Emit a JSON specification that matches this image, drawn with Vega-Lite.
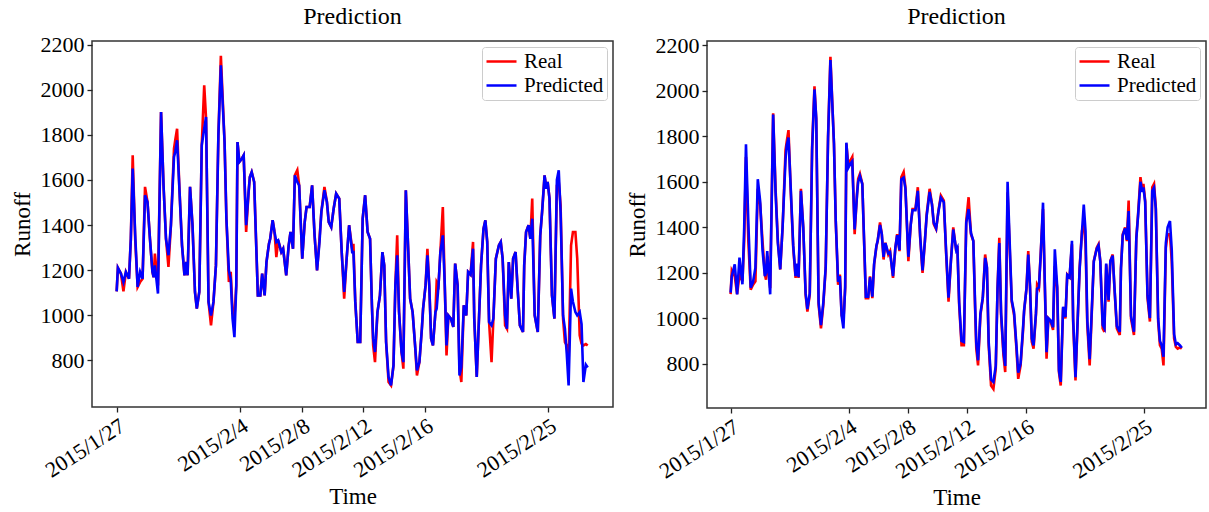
{
  "$schema": "https://vega.github.io/schema/vega-lite/v6.json",
  "padding": {"left": 10, "top": 3, "right": 0, "bottom": 0},
  "config": {
    "font": "Liberation Serif",
    "view": {"stroke": "#333333", "strokeWidth": 1.5},
    "axis": {"grid": false, "domain": false, "tickColor": "#222", "tickSize": 5, "tickWidth": 1.3, "labelFont": "Liberation Serif", "labelFontSize": 22, "labelColor": "#000", "titleFont": "Liberation Serif", "titleFontSize": 23, "titleFontWeight": "normal", "titleColor": "#000", "labelPadding": 3, "labelOverlap": false, "format": "d"},
    "title": {"font": "Liberation Serif", "fontSize": 24, "fontWeight": "normal", "color": "#000", "offset": 5},
    "legend": {"orient": "top-right", "offset": 6, "fillColor": "white", "strokeColor": "#cccccc", "cornerRadius": 3, "padding": 3, "symbolType": "stroke", "symbolSize": 900, "symbolStrokeWidth": 2.5, "labelFont": "Liberation Serif", "labelFontSize": 21, "labelColor": "#000", "rowPadding": 1, "clipHeight": 23, "labelOffset": 6, "title": null}
  },
  "datasets": {
    "d": [
      {"t":0,"real":1106,"pred1":1106,"pred2":1112},
      {"t":2,"real":1210,"pred1":1210,"pred2":1185},
      {"t":7,"real":1184,"pred1":1184,"pred2":1237},
      {"t":11,"real":1106,"pred1":1147,"pred2":1105},
      {"t":15,"real":1192,"pred1":1192,"pred2":1266},
      {"t":20,"real":1162,"pred1":1162,"pred2":1149},
      {"t":23,"real":1339,"pred1":1339,"pred2":1400},
      {"t":26,"real":1709,"pred1":1650,"pred2":1765},
      {"t":30,"real":1339,"pred1":1360,"pred2":1420},
      {"t":34,"real":1125,"pred1":1125,"pred2":1134},
      {"t":38,"real":1147,"pred1":1192,"pred2":1160},
      {"t":42,"real":1162,"pred1":1162,"pred2":1222},
      {"t":46,"real":1569,"pred1":1532,"pred2":1611},
      {"t":50,"real":1502,"pred1":1502,"pred2":1515},
      {"t":54,"real":1339,"pred1":1339,"pred2":1300},
      {"t":58,"real":1192,"pred1":1192,"pred2":1185},
      {"t":60,"real":1169,"pred1":1169,"pred2":1200},
      {"t":62,"real":1273,"pred1":1221,"pred2":1295},
      {"t":67,"real":1132,"pred1":1096,"pred2":1105},
      {"t":72,"real":1901,"pred1":1901,"pred2":1896},
      {"t":76,"real":1576,"pred1":1576,"pred2":1560},
      {"t":80,"real":1339,"pred1":1339,"pred2":1330},
      {"t":84,"real":1214,"pred1":1266,"pred2":1215},
      {"t":88,"real":1399,"pred1":1399,"pred2":1400},
      {"t":93,"real":1739,"pred1":1702,"pred2":1699},
      {"t":95,"real":1776,"pred1":1724,"pred2":1760},
      {"t":98,"real":1827,"pred1":1776,"pred2":1794},
      {"t":102,"real":1547,"pred1":1547,"pred2":1560},
      {"t":106,"real":1310,"pred1":1310,"pred2":1320},
      {"t":110,"real":1177,"pred1":1177,"pred2":1185},
      {"t":113,"real":1236,"pred1":1236,"pred2":1240},
      {"t":115,"real":1177,"pred1":1177,"pred2":1180},
      {"t":119,"real":1569,"pred1":1569,"pred2":1560},
      {"t":123,"real":1399,"pred1":1399,"pred2":1400},
      {"t":127,"real":1103,"pred1":1103,"pred2":1110},
      {"t":130,"real":1029,"pred1":1029,"pred2":1040},
      {"t":134,"real":1103,"pred1":1103,"pred2":1110},
      {"t":138,"real":1754,"pred1":1754,"pred2":1740},
      {"t":142,"real":2020,"pred1":1827,"pred2":2006},
      {"t":145,"real":1872,"pred1":1879,"pred2":1880},
      {"t":149,"real":1059,"pred1":1059,"pred2":1070},
      {"t":153,"real":955,"pred1":999,"pred2":970},
      {"t":157,"real":1059,"pred1":1059,"pred2":1070},
      {"t":161,"real":1221,"pred1":1221,"pred2":1225},
      {"t":165,"real":1798,"pred1":1798,"pred2":1790},
      {"t":169,"real":2150,"pred1":2108,"pred2":2135},
      {"t":175,"real":1768,"pred1":1768,"pred2":1770},
      {"t":178,"real":1428,"pred1":1428,"pred2":1430},
      {"t":182,"real":1147,"pred1":1199,"pred2":1160},
      {"t":185,"real":1192,"pred1":1160,"pred2":1185},
      {"t":188,"real":1014,"pred1":985,"pred2":1010},
      {"t":191,"real":990,"pred1":903,"pred2":955},
      {"t":194,"real":1132,"pred1":1132,"pred2":1140},
      {"t":196,"real":1768,"pred1":1768,"pred2":1772},
      {"t":199,"real":1680,"pred1":1680,"pred2":1660},
      {"t":203,"real":1694,"pred1":1694,"pred2":1680},
      {"t":206,"real":1709,"pred1":1709,"pred2":1690},
      {"t":210,"real":1369,"pred1":1399,"pred2":1390},
      {"t":214,"real":1547,"pred1":1547,"pred2":1540},
      {"t":216,"real":1613,"pred1":1613,"pred2":1600},
      {"t":219,"real":1635,"pred1":1635,"pred2":1625},
      {"t":223,"real":1591,"pred1":1591,"pred2":1590},
      {"t":226,"real":1339,"pred1":1339,"pred2":1345},
      {"t":229,"real":1088,"pred1":1088,"pred2":1095},
      {"t":233,"real":1088,"pred1":1088,"pred2":1095},
      {"t":236,"real":1184,"pred1":1184,"pred2":1180},
      {"t":240,"real":1088,"pred1":1088,"pred2":1095},
      {"t":243,"real":1236,"pred1":1236,"pred2":1240},
      {"t":247,"real":1317,"pred1":1317,"pred2":1320},
      {"t":249,"real":1339,"pred1":1339,"pred2":1340},
      {"t":253,"real":1421,"pred1":1421,"pred2":1410},
      {"t":256,"real":1369,"pred1":1369,"pred2":1370},
      {"t":259,"real":1258,"pred1":1325,"pred2":1270},
      {"t":262,"real":1332,"pred1":1332,"pred2":1330},
      {"t":267,"real":1280,"pred1":1280,"pred2":1285},
      {"t":270,"real":1295,"pred1":1295,"pred2":1290},
      {"t":275,"real":1177,"pred1":1177,"pred2":1185},
      {"t":279,"real":1310,"pred1":1310,"pred2":1310},
      {"t":282,"real":1369,"pred1":1369,"pred2":1365},
      {"t":286,"real":1295,"pred1":1295,"pred2":1300},
      {"t":289,"real":1620,"pred1":1620,"pred2":1610},
      {"t":293,"real":1643,"pred1":1591,"pred2":1618},
      {"t":296,"real":1576,"pred1":1576,"pred2":1570},
      {"t":301,"real":1251,"pred1":1251,"pred2":1270},
      {"t":305,"real":1413,"pred1":1413,"pred2":1410},
      {"t":308,"real":1480,"pred1":1480,"pred2":1475},
      {"t":313,"real":1480,"pred1":1480,"pred2":1475},
      {"t":317,"real":1576,"pred1":1576,"pred2":1560},
      {"t":321,"real":1354,"pred1":1354,"pred2":1360},
      {"t":325,"real":1199,"pred1":1199,"pred2":1210},
      {"t":329,"real":1339,"pred1":1325,"pred2":1340},
      {"t":332,"real":1458,"pred1":1458,"pred2":1450},
      {"t":337,"real":1569,"pred1":1554,"pred2":1555},
      {"t":341,"real":1502,"pred1":1502,"pred2":1500},
      {"t":344,"real":1413,"pred1":1413,"pred2":1420},
      {"t":348,"real":1391,"pred1":1391,"pred2":1395},
      {"t":352,"real":1473,"pred1":1473,"pred2":1470},
      {"t":356,"real":1539,"pred1":1539,"pred2":1530},
      {"t":361,"real":1517,"pred1":1517,"pred2":1510},
      {"t":365,"real":1280,"pred1":1280,"pred2":1290},
      {"t":369,"real":1073,"pred1":1103,"pred2":1090},
      {"t":373,"real":1251,"pred1":1251,"pred2":1250},
      {"t":377,"real":1399,"pred1":1399,"pred2":1390},
      {"t":382,"real":1295,"pred1":1280,"pred2":1300},
      {"t":384,"real":1317,"pred1":1280,"pred2":1310},
      {"t":387,"real":1059,"pred1":1059,"pred2":1070},
      {"t":391,"real":881,"pred1":881,"pred2":900},
      {"t":395,"real":881,"pred1":881,"pred2":895},
      {"t":399,"real":1428,"pred1":1428,"pred2":1420},
      {"t":403,"real":1532,"pred1":1532,"pred2":1480},
      {"t":407,"real":1369,"pred1":1369,"pred2":1375},
      {"t":411,"real":1339,"pred1":1339,"pred2":1340},
      {"t":414,"real":1044,"pred1":1044,"pred2":1060},
      {"t":416,"real":867,"pred1":896,"pred2":890},
      {"t":419,"real":792,"pred1":837,"pred2":815},
      {"t":423,"real":1014,"pred1":1014,"pred2":1020},
      {"t":427,"real":1088,"pred1":1088,"pred2":1090},
      {"t":431,"real":1280,"pred1":1280,"pred2":1265},
      {"t":434,"real":1221,"pred1":1221,"pred2":1225},
      {"t":437,"real":881,"pred1":881,"pred2":895},
      {"t":441,"real":704,"pred1":726,"pred2":730},
      {"t":445,"real":689,"pred1":689,"pred2":720},
      {"t":449,"real":778,"pred1":778,"pred2":790},
      {"t":452,"real":1132,"pred1":1132,"pred2":1130},
      {"t":455,"real":1354,"pred1":1266,"pred2":1330},
      {"t":458,"real":1014,"pred1":1014,"pred2":1025},
      {"t":462,"real":837,"pred1":837,"pred2":855},
      {"t":465,"real":763,"pred1":792,"pred2":790},
      {"t":469,"real":1554,"pred1":1554,"pred2":1600},
      {"t":473,"real":1280,"pred1":1280,"pred2":1300},
      {"t":476,"real":1073,"pred1":1073,"pred2":1080},
      {"t":480,"real":1014,"pred1":1014,"pred2":1025},
      {"t":484,"real":866,"pred1":866,"pred2":880},
      {"t":487,"real":733,"pred1":755,"pred2":760},
      {"t":491,"real":792,"pred1":792,"pred2":800},
      {"t":495,"real":940,"pred1":940,"pred2":950},
      {"t":497,"real":1029,"pred1":1029,"pred2":1035},
      {"t":501,"real":1132,"pred1":1132,"pred2":1130},
      {"t":504,"real":1295,"pred1":1266,"pred2":1280},
      {"t":507,"real":1132,"pred1":1132,"pred2":1140},
      {"t":510,"real":896,"pred1":896,"pred2":910},
      {"t":513,"real":866,"pred1":866,"pred2":880},
      {"t":517,"real":1014,"pred1":1014,"pred2":1020},
      {"t":519,"real":1147,"pred1":1029,"pred2":1130},
      {"t":522,"real":1132,"pred1":1132,"pred2":1135},
      {"t":525,"real":1280,"pred1":1280,"pred2":1270},
      {"t":529,"real":1480,"pred1":1354,"pred2":1508},
      {"t":532,"real":1147,"pred1":1147,"pred2":1160},
      {"t":535,"real":822,"pred1":866,"pred2":850},
      {"t":538,"real":999,"pred1":999,"pred2":1000},
      {"t":542,"real":985,"pred1":985,"pred2":990},
      {"t":546,"real":948,"pred1":948,"pred2":960},
      {"t":549,"real":1229,"pred1":1229,"pred2":1303},
      {"t":553,"real":1132,"pred1":1132,"pred2":1140},
      {"t":556,"real":763,"pred1":733,"pred2":770},
      {"t":559,"real":704,"pred1":770,"pred2":720},
      {"t":563,"real":1044,"pred1":1044,"pred2":1050},
      {"t":567,"real":999,"pred1":999,"pred2":1005},
      {"t":570,"real":1192,"pred1":1192,"pred2":1190},
      {"t":574,"real":1180,"pred1":1180,"pred2":1180},
      {"t":578,"real":1325,"pred1":1295,"pred2":1340},
      {"t":580,"real":985,"pred1":985,"pred2":1000},
      {"t":584,"real":726,"pred1":726,"pred2":740},
      {"t":587,"real":940,"pred1":940,"pred2":950},
      {"t":591,"real":1221,"pred1":1221,"pred2":1215},
      {"t":595,"real":1384,"pred1":1384,"pred2":1380},
      {"t":598,"real":1421,"pred1":1421,"pred2":1500},
      {"t":601,"real":1325,"pred1":1325,"pred2":1383},
      {"t":604,"real":970,"pred1":970,"pred2":990},
      {"t":608,"real":792,"pred1":955,"pred2":820},
      {"t":611,"real":985,"pred1":985,"pred2":1000},
      {"t":615,"real":1251,"pred1":1251,"pred2":1250},
      {"t":620,"real":1310,"pred1":1310,"pred2":1305},
      {"t":623,"real":1325,"pred1":1325,"pred2":1320},
      {"t":626,"real":1251,"pred1":1251,"pred2":1250},
      {"t":630,"real":955,"pred1":999,"pred2":970},
      {"t":633,"real":940,"pred1":940,"pred2":955},
      {"t":636,"real":1236,"pred1":1236,"pred2":1240},
      {"t":640,"real":1073,"pred1":1073,"pred2":1080},
      {"t":643,"real":1251,"pred1":1251,"pred2":1250},
      {"t":647,"real":1280,"pred1":1280,"pred2":1275},
      {"t":650,"real":1132,"pred1":1132,"pred2":1135},
      {"t":654,"real":955,"pred1":955,"pred2":965},
      {"t":659,"real":926,"pred1":926,"pred2":940},
      {"t":661,"real":1221,"pred1":1221,"pred2":1215},
      {"t":664,"real":1369,"pred1":1369,"pred2":1365},
      {"t":668,"real":1399,"pred1":1399,"pred2":1395},
      {"t":671,"real":1339,"pred1":1339,"pred2":1345},
      {"t":674,"real":1517,"pred1":1428,"pred2":1471},
      {"t":678,"real":999,"pred1":999,"pred2":1010},
      {"t":683,"real":926,"pred1":926,"pred2":940},
      {"t":687,"real":1354,"pred1":1354,"pred2":1350},
      {"t":690,"real":1458,"pred1":1458,"pred2":1450},
      {"t":694,"real":1620,"pred1":1620,"pred2":1600},
      {"t":697,"real":1561,"pred1":1561,"pred2":1555},
      {"t":699,"real":1591,"pred1":1591,"pred2":1575},
      {"t":702,"real":1517,"pred1":1517,"pred2":1510},
      {"t":706,"real":1088,"pred1":1088,"pred2":1100},
      {"t":710,"real":985,"pred1":985,"pred2":1000},
      {"t":714,"real":1576,"pred1":1600,"pred2":1560},
      {"t":717,"real":1591,"pred1":1643,"pred2":1574},
      {"t":720,"real":1487,"pred1":1458,"pred2":1480},
      {"t":724,"real":985,"pred1":999,"pred2":1000},
      {"t":727,"real":881,"pred1":940,"pred2":900},
      {"t":730,"real":866,"pred1":830,"pred2":880},
      {"t":733,"real":792,"pred1":689,"pred2":830},
      {"t":737,"real":1310,"pred1":1118,"pred2":1330},
      {"t":740,"real":1369,"pred1":1060,"pred2":1400},
      {"t":744,"real":1369,"pred1":1014,"pred2":1427},
      {"t":747,"real":1251,"pred1":999,"pred2":1300},
      {"t":751,"real":911,"pred1":1014,"pred2":930},
      {"t":754,"real":874,"pred1":960,"pred2":885},
      {"t":757,"real":866,"pred1":704,"pred2":890},
      {"t":761,"real":872,"pred1":780,"pred2":880},
      {"t":764,"real":866,"pred1":768,"pred2":870}
    ]
  },
  "spacing": 11,
  "resolve": {"scale": {"color": "independent"}},
  "hconcat": [
    {
      "width": 521,
      "height": 366,
      "title": "Prediction",
      "data": {"name": "d"},
      "layer": [
        {
          "mark": {"type": "line", "strokeWidth": 2.6},
          "encoding": {
            "x": {"field": "t", "type": "quantitative", "scale": {"domain": [-40, 805], "nice": false, "zero": false}, "title": "Time",
              "axis": {"values": [0, 200, 300, 400, 500, 700], "labelAngle": -33, "labelAlign": "right", "labelBaseline": "top",
                "labelExpr": "datum.value == 0 ? '2015/1/27' : datum.value == 200 ? '2015/2/4' : datum.value == 300 ? '2015/2/8' : datum.value == 400 ? '2015/2/12' : datum.value == 500 ? '2015/2/16' : '2015/2/25'"}},
            "y": {"field": "real", "type": "quantitative", "scale": {"domain": [593, 2216], "nice": false, "zero": false}, "title": "Runoff", "axis": {"values": [800, 1000, 1200, 1400, 1600, 1800, 2000, 2200], "titlePadding": 6}},
            "color": {"datum": "Real", "type": "nominal", "scale": {"domain": ["Real", "Predicted"], "range": ["#ff0000", "#0000ff"]}}
          }
        },
        {
          "mark": {"type": "line", "strokeWidth": 2.6},
          "encoding": {
            "x": {"field": "t", "type": "quantitative"},
            "y": {"field": "pred1", "type": "quantitative"},
            "color": {"datum": "Predicted", "type": "nominal"}
          }
        }
      ]
    },
    {
      "width": 499,
      "height": 367,
      "title": "Prediction",
      "data": {"name": "d"},
      "layer": [
        {
          "mark": {"type": "line", "strokeWidth": 2.6},
          "encoding": {
            "x": {"field": "t", "type": "quantitative", "scale": {"domain": [-40, 805], "nice": false, "zero": false}, "title": "Time",
              "axis": {"values": [0, 200, 300, 400, 500, 700], "labelAngle": -33, "labelAlign": "right", "labelBaseline": "top",
                "labelExpr": "datum.value == 0 ? '2015/1/27' : datum.value == 200 ? '2015/2/4' : datum.value == 300 ? '2015/2/8' : datum.value == 400 ? '2015/2/12' : datum.value == 500 ? '2015/2/16' : '2015/2/25'"}},
            "y": {"field": "real", "type": "quantitative", "scale": {"domain": [605, 2219], "nice": false, "zero": false}, "title": "Runoff", "axis": {"values": [800, 1000, 1200, 1400, 1600, 1800, 2000, 2200], "titlePadding": 6}},
            "color": {"datum": "Real", "type": "nominal", "scale": {"domain": ["Real", "Predicted"], "range": ["#ff0000", "#0000ff"]}}
          }
        },
        {
          "mark": {"type": "line", "strokeWidth": 2.6},
          "encoding": {
            "x": {"field": "t", "type": "quantitative"},
            "y": {"field": "pred2", "type": "quantitative"},
            "color": {"datum": "Predicted", "type": "nominal"}
          }
        }
      ]
    }
  ]
}
